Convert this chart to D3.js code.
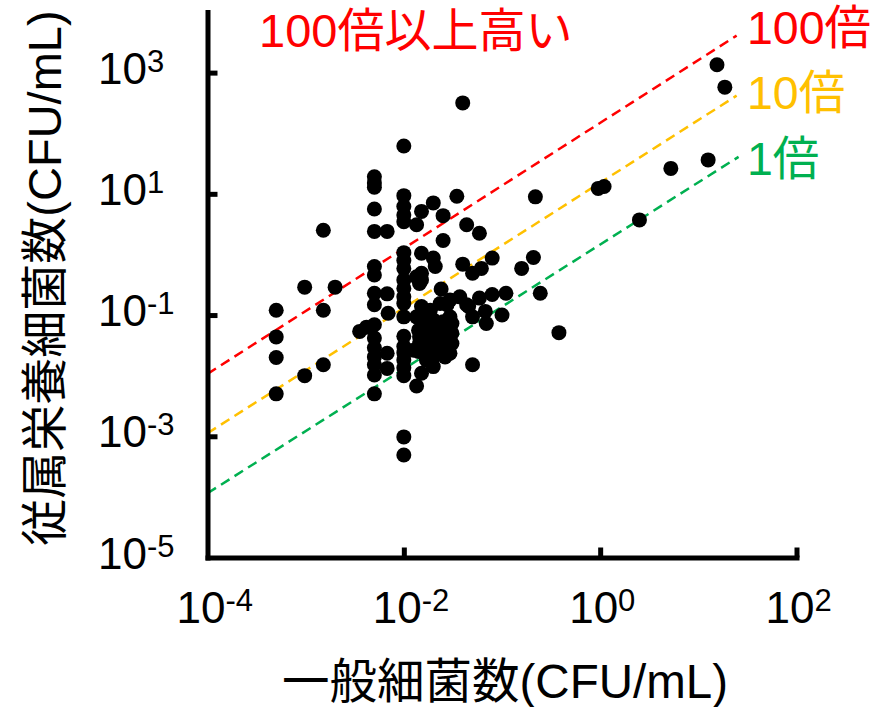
<!DOCTYPE html>
<html>
<head>
<meta charset="utf-8">
<script src="https://cdn.jsdelivr.net/npm/d3@7"></script>
<style>
  body { margin: 0; background: #fff; }
  text { font-family: "Liberation Sans", Arial, "Noto Sans CJK JP", sans-serif; }
</style>
</head>
<body>
<svg id="chart" width="875" height="707"></svg>
<script>
// log10 of 一般細菌数 and 従属栄養細菌数 for each sample
const ippanLog10 = [
	-3.30, -3.30, -3.30, -3.30, -3.01, -3.01, -2.82, -2.82, -2.70, -2.82,
	-2.30, -2.30, -2.30, -2.30, -2.30, -2.17, -2.30, -2.30, -2.30, -2.17,
	-2.30, -2.16, -2.45, -2.38, -2.30, -2.30, -2.30, -2.30, -2.30, -2.30,
	-2.17, -2.17, -2.30, -2.00, -2.00, -2.00, -2.00, -2.00, -2.00, -2.00,
	-2.00, -2.00, -2.00, -2.00, -2.00, -2.00, -2.00, -2.00, -2.00, -2.00,
	-2.00, -2.00, -2.00, -2.00, -1.87, -1.82, -1.82, -1.82, -1.87, -1.82,
	-1.84, -1.82, -1.87, -1.82, -1.85, -1.84, -1.84, -1.90, -1.85, -1.82,
	-1.87, -1.70, -1.70, -1.68, -1.73, -1.77, -1.73, -1.70, -1.70, -1.77,
	-1.77, -1.70, -1.77, -1.70, -1.70, -1.60, -1.60, -1.62, -1.63, -1.56,
	-1.63, -1.60, -1.60, -1.60, -1.58, -1.46, -1.40, -1.36, -1.40, -1.43,
	-1.53, -1.51, -1.51, -1.53, -1.53, -1.53, -1.51, -1.53, -1.36, -1.34,
	-1.23, -1.30, -1.30, -1.30, -1.21, -1.23, -1.17, -1.16, -1.10, -1.10,
	-1.00, -0.96, -0.80, -0.68, -0.66, -0.61, -0.42, -0.02, 0.04, 0.40,
	0.72, 1.10, 1.19, 1.27, -1.65, -1.55, -1.66, -1.75, -1.57
];
const juzokuLog10 = [
	-0.92, -1.36, -1.70, -2.30, -0.54, -2.00, -0.92, -1.82, -0.54, 0.40,
	1.28, 1.18, 1.11, 0.75, 0.38, 0.38, -0.20, -0.34, -0.64, -0.65,
	-0.83, -0.97, -1.27, -1.20, -1.16, -1.38, -1.54, -1.69, -1.82, -1.99,
	-1.63, -1.88, -2.30, 1.79, 0.97, 0.79, 0.65, 0.54, 0.03, -0.10,
	-0.23, -0.42, -0.56, -0.70, -0.81, -1.03, -1.35, -1.52, -1.62, -1.74,
	-1.87, -2.00, -3.01, -3.31, 0.49, 0.71, 0.02, -0.31, -0.37, -0.42,
	-0.48, -0.86, -1.03, -1.03, -1.25, -1.36, -1.47, -1.58, -1.60, -1.96,
	-2.17, 0.85, -0.06, -0.20, -0.92, -1.16, -1.14, -1.08, -1.36, -1.41,
	-1.60, -1.52, -1.74, -1.69, -1.85, 0.64, 0.23, -0.57, -0.81, -0.83,
	-1.25, -1.11, -1.30, -1.49, -1.69, 0.96, 2.50, 0.49, -0.16, -0.70,
	-0.75, -1.14, -1.30, -1.03, -1.19, -1.41, -1.47, -1.63, -0.83, -0.86,
	0.35, -0.31, -1.03, -1.82, -0.23, -0.72, -0.94, -1.14, -0.06, -0.66,
	-1.00, -0.64, -0.23, -0.05, 0.95, -0.64, -1.29, 1.09, 1.12, 0.57,
	1.42, 1.56, 3.13, 2.76, -1.40, -1.56, -1.58, -1.30, -1.21
];

// guide lines (log10 end points) and their labels
const guideNames = ["100倍", "10倍", "1倍"];
const guideStartLog = [[-4, -1.97], [-4, -2.95], [-4, -3.94]];
const guideEndLog = [[1.39, 3.61], [1.39, 2.62], [1.41, 1.61]];

const xTickExp = [-4, -2, 0, 2];
const yTickExp = [3, 1, -1, -3, -5];

const guideColours = {"100倍": "#FF0000", "10倍": "#FFC000", "1倍": "#00B050"};

let svg = d3.select("#chart");

let x = d3.scaleLog().domain([1e-4, 1e2]).range([207.5, 796.5]);
let y = d3.scaleLog().domain([1e-5, 1e4]).range([557.5, 12]);

let data = ippanLog10.map((v, i) => ({x: Math.pow(10, v), y: Math.pow(10, juzokuLog10[i])}));

// dashed guide lines
let guides = guideNames.map((n, i) => ({
	name: n,
	pts: [guideStartLog[i], guideEndLog[i]].map(p => [Math.pow(10, p[0]), Math.pow(10, p[1])])
}));

let lineGen = d3.line().x(d => x(d[0])).y(d => y(d[1]));

svg.append("g").selectAll("path")
	.data(guides)
	.join("path")
	.attr("d", d => lineGen(d.pts))
	.attr("fill", "none")
	.attr("stroke", d => guideColours[d.name])
	.attr("stroke-width", 2.5)
	.attr("stroke-dasharray", "10,6");

// points
svg.append("g").selectAll("circle")
	.data(data)
	.join("circle")
	.attr("cx", d => x(d.x))
	.attr("cy", d => y(d.y))
	.attr("r", 7.5)
	.attr("fill", "#000");

// axes (ticks point inward, labels drawn separately)
let yAxis = svg.append("g")
	.attr("transform", "translate(207.5,0)")
	.call(d3.axisLeft(y).tickValues([1e3, 1e1, 1e-1, 1e-3]).tickSize(-10).tickSizeOuter(0).tickFormat(""));

let xAxis = svg.append("g")
	.attr("transform", "translate(0,557.5)")
	.call(d3.axisBottom(x).tickValues([1e-2, 1, 1e2]).tickSize(-10).tickSizeOuter(0).tickFormat(""));

[yAxis, xAxis].forEach(a => {
	a.select(".domain").attr("stroke", "#000").attr("stroke-width", 5).attr("stroke-linecap", "square");
	a.selectAll(".tick line").attr("stroke", "#000").attr("stroke-width", 5);
});

// tick labels as 10 with superscript exponent
function powLabel(sel, e){
	sel.append("tspan").text("10");
	sel.append("tspan").attr("font-size", 31).attr("dy", -12).text(e);
}

svg.append("g").selectAll("text")
	.data(yTickExp)
	.join("text")
	.attr("x", 98)
	.attr("y", d => y(Math.pow(10, d)) + 11)
	.attr("font-size", 44)
	.attr("fill", "#000")
	.each(function(d){ powLabel(d3.select(this), d); });

svg.append("g").selectAll("text")
	.data(xTickExp)
	.join("text")
	.attr("x", d => x(Math.pow(10, d)) - 31)
	.attr("y", 623)
	.attr("font-size", 44)
	.attr("fill", "#000")
	.each(function(d){ powLabel(d3.select(this), d); });

// axis titles
svg.append("text")
	.attr("x", 505)
	.attr("y", 698)
	.attr("text-anchor", "middle")
	.attr("font-size", 47.5)
	.text("一般細菌数(CFU/mL)");

svg.append("text")
	.attr("transform", "translate(61,278) rotate(-90)")
	.attr("text-anchor", "middle")
	.attr("font-size", 47)
	.text("従属栄養細菌数(CFU/mL)");

// annotations
svg.append("text")
	.attr("x", 259).attr("y", 47)
	.attr("font-size", 47)
	.attr("fill", guideColours["100倍"])
	.text("100倍以上高い");

let labelY = {"100倍": 44, "10倍": 109, "1倍": 175};
svg.append("g").selectAll("text")
	.data(guideNames)
	.join("text")
	.attr("x", 747)
	.attr("y", d => labelY[d])
	.attr("font-size", 46.5)
	.attr("fill", d => guideColours[d])
	.text(d => d);
</script>
</body>
</html>
